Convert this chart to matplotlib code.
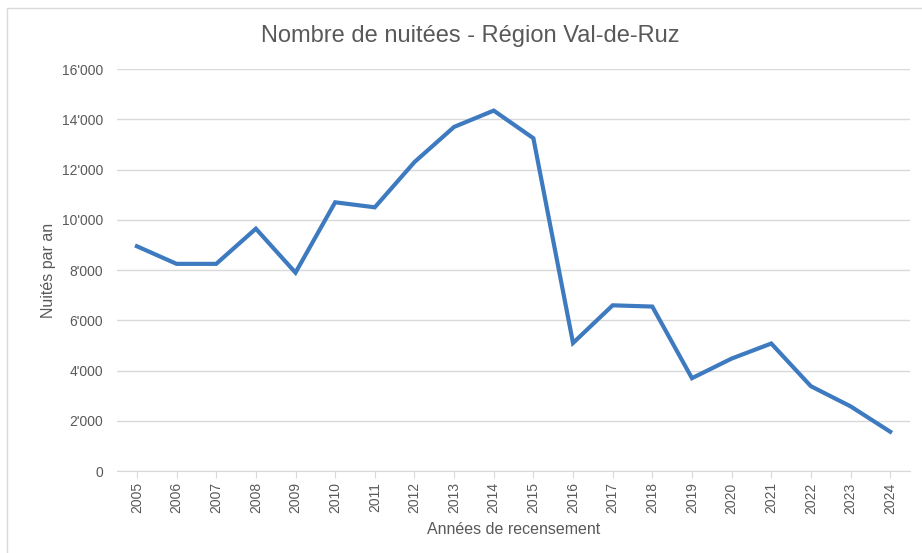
import matplotlib.pyplot as plt
from matplotlib.ticker import FuncFormatter
from matplotlib.patches import Rectangle

# Data
years = list(range(2005, 2025))
nuitees = [8950, 8250, 8250, 9650, 7900, 10700, 10500, 12300, 13700, 14350,
           13250, 5100, 6600, 6550, 3700, 4480, 5080, 3380, 2580, 1570]

TEXT = '#595959'
GRID = '#d9d9d9'


def thousands(v, pos):
    v = int(v)
    if v == 0:
        return '0'
    return "{:,}".format(v).replace(',', "'")


fig = plt.figure(figsize=(9.22, 5.53), dpi=100)
plt.rcParams['font.family'] = ['Liberation Sans', 'DejaVu Sans']

# light frame around the chart area
fig.patches.append(Rectangle((7 / 922, -0.1), 1.2, 1 - 8 / 553 + 0.1,
                             transform=fig.transFigure, fill=False,
                             edgecolor='#d9d9d9', linewidth=1))

ax = fig.add_axes([0.127, 0.148, 0.86, 0.727])
ax.plot(years, nuitees, color='#3d7abf', linewidth=3, solid_joinstyle='miter')

ax.set_xlim(2004.5, 2024.5)
ax.set_ylim(0, 16000)
ax.set_yticks(range(0, 16001, 2000))
ax.yaxis.set_major_formatter(FuncFormatter(thousands))
ax.set_xticks(years)
ax.set_xticklabels([str(y) for y in years], rotation=90)

ax.grid(axis='y', color=GRID, linewidth=1)
ax.set_axisbelow(True)
for side in ['top', 'right', 'left']:
    ax.spines[side].set_visible(False)
ax.spines['bottom'].set_color(GRID)
ax.tick_params(axis='y', length=0, pad=10, labelsize=10, labelcolor=TEXT)
ax.tick_params(axis='x', length=5, color=GRID, labelsize=10, labelcolor=TEXT, pad=3)

# title is centred on the whole chart, not the plot area
fig.text(0.51, 1 - 36 / 553, 'Nombre de nuitées - Région Val-de-Ruz',
         fontsize=17, color=TEXT, ha='center', va='center')
ax.set_xlabel('Années de recensement', fontsize=11.5, color=TEXT, labelpad=6)
ax.set_ylabel('Nuités par an', fontsize=11.5, color=TEXT, labelpad=4)

plt.savefig('out.png', dpi=100)
